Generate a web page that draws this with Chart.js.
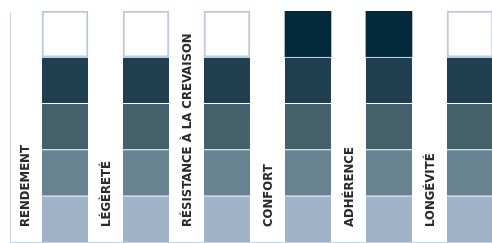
<!DOCTYPE html>
<html>
<head>
<meta charset="utf-8">
<script src="https://cdn.jsdelivr.net/npm/chart.js@4"></script>
<style>
html, body { margin: 0; padding: 0; background: #fff; }
canvas { display: block; }
</style>
</head>
<body>
<canvas id="chart" width="492" height="243"></canvas>
<script>
// Tyre ratings, 5 levels per criterion
const categories = ['RENDEMENT', 'LÉGÈRETÉ', 'RÉSISTANCE À LA CREVAISON', 'CONFORT', 'ADHÉRENCE', 'LONGÉVITÉ'];
const ratings = [4, 4, 4, 5, 5, 4];
const levels = [1, 2, 3, 4, 5];
const levelColors = ['#a0b3c9', '#67838f', '#43606b', '#1f3e50', '#03293b'];
const emptyBorder = '#b9c9dc';

// one stacked dataset per level, each segment is one unit high
var datasets = levels.map(function(k) {
    return {
        label: 'Niveau ' + k,
        data: categories.map(function(c, i) { return { x: i, y: 1 }; }),
        backgroundColor: ratings.map(function(r) { return r >= k ? levelColors[k - 1] : '#ffffff'; }),
        borderColor: ratings.map(function(r) { return r >= k ? '#ffffff' : emptyBorder; }),
        borderWidth: function(ctx) {
            var filled = ratings[ctx.dataIndex] >= k;
            if (!filled) return 2;
            return k < 5 ? { top: 1, bottom: 0, left: 0, right: 0 } : 0;
        },
        borderSkipped: false,
        barThickness: 46
    };
});

// left / bottom frame and the rotated labels between the bars
const labelPlugin = {
    id: 'sideLabels',
    afterDatasetsDraw(chart) {
        const { ctx, chartArea, scales } = chart;
        ctx.save();
        ctx.strokeStyle = '#c3d1e1';
        ctx.lineWidth = 1;
        ctx.beginPath();
        ctx.moveTo(chartArea.left + 0.5, chartArea.top + 1);
        ctx.lineTo(chartArea.left + 0.5, chartArea.bottom + 0.5);
        ctx.lineTo(chartArea.right, chartArea.bottom + 0.5);
        ctx.stroke();

        ctx.font = 'bold 13px "DejaVu Sans Condensed", "Liberation Sans Narrow", sans-serif';
        ctx.fillStyle = '#2b2b2b';
        ctx.textAlign = 'left';
        ctx.textBaseline = 'middle';
        categories.forEach(function(name, i) {
            var x = scales.x.getPixelForValue(i - 0.5) + 1.5;
            var y = scales.y.getPixelForValue(0) - 15;
            ctx.save();
            ctx.translate(x, y);
            ctx.rotate(-Math.PI / 2);
            ctx.fillText(name, 0, 0);
            ctx.restore();
        });
        ctx.restore();
    }
};

var ctx = document.getElementById('chart').getContext('2d');
var myChart = new Chart(ctx, {
    type: 'bar',
    data: { datasets: datasets },
    options: {
        responsive: false,
        animation: false,
        layout: { padding: { left: 10, top: 11, right: 0, bottom: 1 } },
        plugins: {
            legend: { display: false },
            tooltip: { enabled: false }
        },
        scales: {
            x: { type: 'linear', stacked: true, offset: false, min: -0.679, max: 5.272, display: false },
            y: { stacked: true, min: 0, max: 5, display: false }
        }
    },
    plugins: [labelPlugin]
});
</script>
</body>
</html>
